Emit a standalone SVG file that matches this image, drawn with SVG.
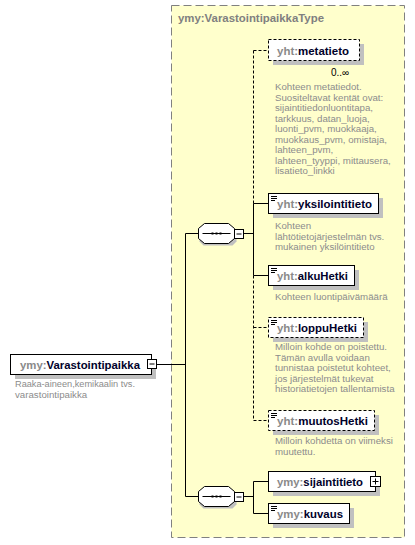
<svg xmlns="http://www.w3.org/2000/svg" width="415" height="545" viewBox="0 0 415 545">
<style>
.bg{fill:#ffffcc;stroke:#808080;stroke-dasharray:8,4;stroke-width:1}
.sh{fill:#c0c0c0}
.box{fill:#fff;stroke:#000;stroke-width:1}
.opt{fill:#fff;stroke:#000;stroke-width:1;stroke-dasharray:3,2}
.ln{fill:none;stroke:#000;stroke-width:1}
.dl{fill:none;stroke:#000;stroke-width:1;stroke-dasharray:3,2}
.nm{font-family:"Liberation Sans",Arial,sans-serif;font-size:10.6px;font-weight:bold;fill:#00002a}
.px{fill:#8a8a8a}
.ds{font-family:"Liberation Sans",Arial,sans-serif;font-size:9.7px;fill:#8c8c8c}
.tt{font-family:"Liberation Sans",Arial,sans-serif;font-size:11px;font-weight:bold;fill:#808080}
.mu{font-family:"Liberation Sans",Arial,sans-serif;font-size:10px;fill:#000}
</style>
<defs>
<g id="ico"><path d="M2.5 3h6M2.5 5h6M2.5 7h4" stroke="#000" stroke-width="1"/></g>
<g id="seq">
<path d="M5 4h29l4 4v10l-4 4h-29l-4-4v-10z" class="sh"/>
<path d="M6 0h24l6 5v10l-6 5h-24l-6-5v-10z" fill="#fff" stroke="#000"/>
<path d="M4 10h28" stroke="#000"/>
<rect x="13" y="9" width="2" height="2" fill="#000"/><rect x="17" y="9" width="2" height="2" fill="#000"/><rect x="21" y="9" width="2" height="2" fill="#000"/>
<rect x="36" y="6" width="9" height="9" fill="#fff" stroke="#000"/>
<path d="M38 10.5h5" stroke="#000"/>
</g>
</defs>
<rect class="bg" x="171.5" y="5.5" width="233" height="532"/>
<text class="tt" x="178" y="22" textLength="146" lengthAdjust="spacingAndGlyphs">ymy:VarastointipaikkaType</text>

<g id="connectors">
<path class="ln" d="M157 364.5h28.5M185.5 233.5v263M185.5 233.5h14M185.5 496.5h14"/>
<path class="ln" d="M243 233.5h10.5M253.5 203.5v72M253.5 203.5h14.5M253.5 275.5h14.5"/>
<path class="dl" d="M253.5 50.5v153M253.5 50.5h14.5M253.5 275.5v145M253.5 327.5h14.5M253.5 420.5h14.5"/>
<path class="ln" d="M243 496.5h10.5M253.5 481.5v32M253.5 481.5h14.5M253.5 513.5h14.5"/>
</g>

<g id="Varastointipaikka">
<rect class="sh" x="15" y="359" width="141" height="20"/>
<rect class="box" x="10.5" y="354.5" width="141" height="20"/>
<text class="nm" x="20" y="368.5" textLength="120" lengthAdjust="spacingAndGlyphs"><tspan class="px">ymy:</tspan>Varastointipaikka</text>
<rect x="147.5" y="359.5" width="9" height="9" fill="#fff" stroke="#000"/>
<path d="M149.5 364h5" stroke="#000"/>
<text class="ds" x="15" y="387" textLength="120" lengthAdjust="spacingAndGlyphs">Raaka-aineen,kemikaalin tvs.</text>
<text class="ds" x="15" y="398">varastointipaikka</text>
</g>

<g id="seq1" transform="translate(198.5,223.5)"><use href="#seq"/></g>
<g id="seq2" transform="translate(198.5,486.5)"><use href="#seq"/></g>

<g id="metatieto">
<rect class="sh" x="273" y="44" width="91" height="21"/>
<rect class="opt" x="268.5" y="39.5" width="91" height="21"/>
<text class="nm" x="277" y="54.5" textLength="72" lengthAdjust="spacingAndGlyphs"><tspan class="px">yht:</tspan>metatieto</text>
<text class="mu" x="331" y="76">0..∞</text>
<text class="ds"><tspan x="275" y="90">Kohteen metatiedot.</tspan><tspan x="275" y="100.5">Suositeltavat kentät ovat:</tspan><tspan x="275" y="111">sijaintitiedonluontitapa,</tspan><tspan x="275" y="121.5">tarkkuus, datan_luoja,</tspan><tspan x="275" y="132">luonti_pvm, muokkaaja,</tspan><tspan x="275" y="142.5">muokkaus_pvm, omistaja,</tspan><tspan x="275" y="153">lahteen_pvm,</tspan><tspan x="275" y="163.5">lahteen_tyyppi, mittausera,</tspan><tspan x="275" y="174">lisatieto_linkki</tspan></text>
</g>

<g id="yksilointitieto">
<rect class="sh" x="273" y="198" width="110" height="20"/>
<rect class="box" x="268.5" y="193.5" width="110" height="20"/>
<use href="#ico" transform="translate(268.5,193.5)"/>
<text class="nm" x="277" y="207.5" textLength="95" lengthAdjust="spacingAndGlyphs"><tspan class="px">yht:</tspan>yksilointitieto</text>
<text class="ds"><tspan x="275" y="229">Kohteen</tspan><tspan x="275" y="239.5">lähtötietojärjestelmän  tvs.</tspan><tspan x="275" y="250">mukainen yksilöintitieto</tspan></text>
</g>

<g id="alkuHetki">
<rect class="sh" x="273" y="270" width="86" height="20"/>
<rect class="box" x="268.5" y="265.5" width="86" height="20"/>
<use href="#ico" transform="translate(268.5,265.5)"/>
<text class="nm" x="277" y="279.5" textLength="71" lengthAdjust="spacingAndGlyphs"><tspan class="px">yht:</tspan>alkuHetki</text>
<text class="ds" x="275" y="300">Kohteen luontipäivämäärä</text>
</g>

<g id="loppuHetki">
<rect class="sh" x="273" y="322" width="95" height="20"/>
<rect class="opt" x="268.5" y="317.5" width="95" height="20"/>
<use href="#ico" transform="translate(268.5,317.5)"/>
<text class="nm" x="277" y="331.5" textLength="80" lengthAdjust="spacingAndGlyphs"><tspan class="px">yht:</tspan>loppuHetki</text>
<text class="ds"><tspan x="275" y="350">Milloin kohde on poistettu.</tspan><tspan x="275" y="360.5">Tämän avulla voidaan</tspan><tspan x="275" y="371">tunnistaa poistetut kohteet,</tspan><tspan x="275" y="381.5">jos järjestelmät tukevat</tspan><tspan x="275" y="392">historiatietojen tallentamista</tspan></text>
</g>

<g id="muutosHetki">
<rect class="sh" x="273" y="415" width="106" height="20"/>
<rect class="opt" x="268.5" y="410.5" width="106" height="20"/>
<use href="#ico" transform="translate(268.5,410.5)"/>
<text class="nm" x="277" y="424.5" textLength="91" lengthAdjust="spacingAndGlyphs"><tspan class="px">yht:</tspan>muutosHetki</text>
<text class="ds"><tspan x="275" y="444">Milloin kohdetta on viimeksi</tspan><tspan x="275" y="454.5">muutettu.</tspan></text>
</g>

<g id="sijaintitieto">
<rect class="sh" x="273" y="476" width="107" height="20"/>
<rect class="box" x="268.5" y="471.5" width="107" height="20"/>
<text class="nm" x="277" y="485.5" textLength="86" lengthAdjust="spacingAndGlyphs"><tspan class="px">ymy:</tspan>sijaintitieto</text>
<rect x="370.5" y="476.5" width="10" height="10" fill="#fff" stroke="#000"/>
<path d="M372.5 481.5h6M375.5 478.5v6" stroke="#000"/>
</g>

<g id="kuvaus">
<rect class="sh" x="273" y="508" width="81" height="20"/>
<rect class="box" x="268.5" y="503.5" width="81" height="20"/>
<use href="#ico" transform="translate(268.5,503.5)"/>
<text class="nm" x="277" y="517.5" textLength="66" lengthAdjust="spacingAndGlyphs"><tspan class="px">ymy:</tspan>kuvaus</text>
</g>
</svg>
